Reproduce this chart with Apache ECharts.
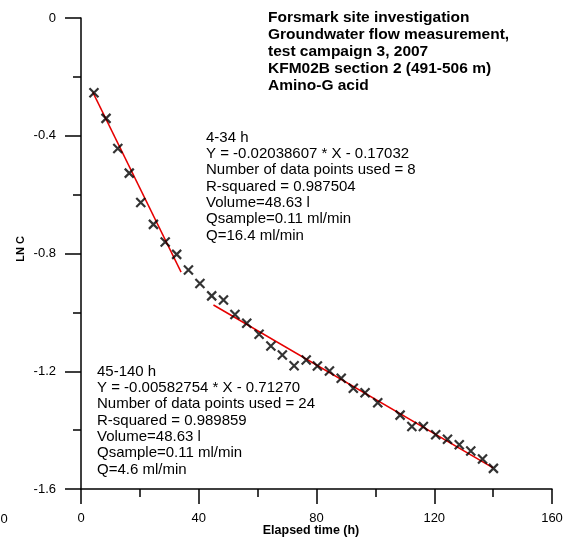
<!DOCTYPE html>
<html>
<head>
<meta charset="utf-8">
<script src="https://cdn.jsdelivr.net/npm/echarts@6/dist/echarts.min.js"></script>
<style>
  html, body { margin: 0; padding: 0; background: #ffffff; }
  #chart { width: 581px; height: 542px; }
</style>
</head>
<body>
<div id="chart"></div>
<script>
// Elapsed time (h) of each tracer sample
var elapsedHours = [
  4.4, 8.5, 12.5, 16.4, 20.3, 24.6, 28.6, 32.5, 36.5, 40.4,
  44.4, 48.4, 52.3, 56.3, 60.5, 64.5, 68.4, 72.4, 76.5, 80.3,
  84.4, 88.4, 92.5, 96.5, 100.8, 108.4, 112.4, 116.3, 120.5, 124.5,
  128.5, 132.4, 136.4, 140.1
];
// Natural log of the relative tracer concentration
var lnC = [
  -0.254, -0.341, -0.443, -0.527, -0.627, -0.701, -0.761, -0.803, -0.856, -0.902,
  -0.944, -0.958, -1.007, -1.037, -1.074, -1.114, -1.145, -1.181, -1.162, -1.182,
  -1.199, -1.224, -1.258, -1.273, -1.307, -1.349, -1.388, -1.388, -1.416, -1.431,
  -1.450, -1.471, -1.498, -1.530
];

// Linear fits: [start h, end h, slope, intercept]
var fitEarly = [4, 34, -0.02038607, -0.17032];
var fitLate = [45, 140, -0.00582754, -0.71270];

var xTicks = [0, 40, 80, 120, 160];
var yTicks = [0, -0.4, -0.8, -1.2, -1.6];

var titleLines = [
  'Forsmark site investigation',
  'Groundwater flow measurement,',
  'test campaign 3, 2007',
  'KFM02B section 2 (491-506 m)',
  'Amino-G acid'
];
var earlyNotes = [
  '4-34 h',
  'Y = -0.02038607 * X - 0.17032',
  'Number of data points used = 8',
  'R-squared = 0.987504',
  'Volume=48.63 l',
  'Qsample=0.11 ml/min',
  'Q=16.4 ml/min'
];
var lateNotes = [
  '45-140 h',
  'Y = -0.00582754 * X - 0.71270',
  'Number of data points used = 24',
  'R-squared = 0.989859',
  'Volume=48.63 l',
  'Qsample=0.11 ml/min',
  'Q=4.6 ml/min'
];

function fitSegment(f) {
  return [[f[0], f[2] * f[0] + f[3]], [f[1], f[2] * f[1] + f[3]]];
}

var points = elapsedHours.map(function (t, i) { return [t, lnC[i]]; });
var FONT = '"Liberation Sans", Arial, Helvetica, sans-serif';

var chart = echarts.init(document.getElementById('chart'), null, { renderer: 'canvas' });

var fitLineStyle = { color: '#e60000', width: 1.5 };

chart.setOption({
  animation: false,
  backgroundColor: '#ffffff',
  grid: { left: 81, right: 29, top: 18, bottom: 53, containLabel: false },
  xAxis: {
    type: 'value',
    min: xTicks[0],
    max: xTicks[xTicks.length - 1],
    interval: 40,
    axisLine: { show: true, onZero: false, lineStyle: { color: '#000', width: 1.5 } },
    axisTick: { show: true, inside: false, length: 15, lineStyle: { color: '#000', width: 1.5 } },
    minorTick: { show: true, splitNumber: 2, length: 8, lineStyle: { color: '#000', width: 1.5 } },
    splitLine: { show: false },
    axisLabel: { margin: 23, fontSize: 13, color: '#000', fontFamily: FONT }
  },
  yAxis: {
    type: 'value',
    min: yTicks[yTicks.length - 1],
    max: yTicks[0],
    interval: 0.4,
    axisLine: { show: true, onZero: false, lineStyle: { color: '#000', width: 1.5 } },
    axisTick: { show: true, inside: false, length: 16, lineStyle: { color: '#000', width: 1.5 } },
    minorTick: { show: true, splitNumber: 2, length: 8, lineStyle: { color: '#000', width: 1.5 } },
    splitLine: { show: false },
    axisLabel: { margin: 25, fontSize: 13, color: '#000', fontFamily: FONT }
  },
  series: [
    {
      type: 'line',
      data: fitSegment(fitEarly),
      symbol: 'none',
      lineStyle: fitLineStyle,
      z: 2
    },
    {
      type: 'line',
      data: fitSegment(fitLate),
      symbol: 'none',
      lineStyle: fitLineStyle,
      z: 2
    },
    {
      type: 'scatter',
      data: points,
      symbol: 'path://M0,0L10,10M10,0L0,10',
      symbolSize: 9,
      itemStyle: { color: 'none', borderColor: '#000', borderWidth: 2.2 },
      z: 3
    }
  ],
  graphic: [
    {
      type: 'text', left: 268, top: 9.5,
      style: { text: titleLines.join('\n'), font: 'bold 15.5px ' + FONT, fill: '#000', lineHeight: 17 }
    },
    {
      type: 'text', left: 206, top: 129.5,
      style: { text: earlyNotes.join('\n'), font: '15px ' + FONT, fill: '#000', lineHeight: 16.3 }
    },
    {
      type: 'text', left: 97, top: 363.5,
      style: { text: lateNotes.join('\n'), font: '15px ' + FONT, fill: '#000', lineHeight: 16.3 }
    },
    {
      type: 'text', x: 311, y: 531,
      style: { text: 'Elapsed time (h)', font: 'bold 12.5px ' + FONT, fill: '#000', align: 'center', verticalAlign: 'middle' }
    },
    {
      type: 'text', x: 21, y: 249, rotation: Math.PI / 2,
      style: { text: 'LN C', font: 'bold 11px ' + FONT, fill: '#000', align: 'center', verticalAlign: 'middle' }
    },
    {
      type: 'text', x: 4, y: 519,
      style: { text: '0', font: '13px ' + FONT, fill: '#000', align: 'center', verticalAlign: 'middle' }
    }
  ]
});
</script>
</body>
</html>
